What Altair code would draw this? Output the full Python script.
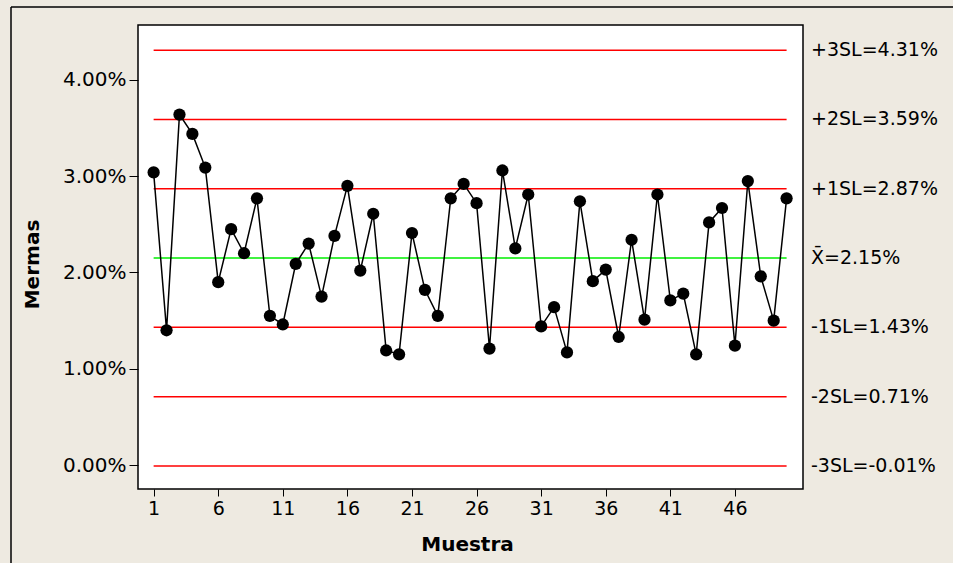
import altair as alt
import pandas as pd

# Individual values chart of shrinkage (mermas) per sample
muestra = list(range(1, 51))
mermas = [3.04, 1.40, 3.64, 3.44, 3.09, 1.90, 2.45, 2.20, 2.77, 1.55,
          1.46, 2.09, 2.30, 1.75, 2.38, 2.90, 2.02, 2.61, 1.19, 1.15,
          2.41, 1.82, 1.55, 2.77, 2.92, 2.72, 1.21, 3.06, 2.25, 2.81,
          1.44, 1.64, 1.17, 2.74, 1.91, 2.03, 1.33, 2.34, 1.51, 2.81,
          1.71, 1.78, 1.15, 2.52, 2.67, 1.24, 2.95, 1.96, 1.50, 2.77]

# Sigma limits around the centre line
limit_names = ["+3SL", "+2SL", "+1SL", "X\u0304", "-1SL", "-2SL", "-3SL"]
limit_values = [4.31, 3.59, 2.87, 2.15, 1.43, 0.71, -0.01]
limit_colors = ["#FF0000", "#FF0000", "#FF0000", "#00EE00", "#FF0000", "#FF0000", "#FF0000"]

y_ticks = [0, 1, 2, 3, 4]
x_ticks = [1, 6, 11, 16, 21, 26, 31, 36, 41, 46]

W, H = 665, 464
FONT = "DejaVu Sans"
BG = "#EEEAE1"

points = pd.DataFrame({"Muestra": muestra, "Mermas": mermas})
limits = pd.DataFrame({
    "name": limit_names,
    "value": limit_values,
    "color": limit_colors,
    "x0": muestra[0],
    "x1": muestra[-1],
})
limits["label"] = [f"{n}={v:.2f}%" for n, v in zip(limit_names, limit_values)]

x_scale = alt.Scale(domain=[-0.21, 51.27], nice=False, zero=False)
y_scale = alt.Scale(domain=[-0.249, 4.571], nice=False, zero=False)

x_axis = alt.Axis(
    values=x_ticks, title="Muestra", grid=False, domain=False,
    tickSize=7, tickColor="black", tickWidth=1,
    labelFont=FONT, labelFontSize=19, labelColor="black", labelPadding=3,
    titleFont=FONT, titleFontSize=20, titleFontWeight="bold", titleColor="black",
    titleX=329, titleY=61, titleBaseline="alphabetic", titleAlign="center",
)
y_axis = alt.Axis(
    values=y_ticks, title="Mermas", grid=False, domain=False,
    labelExpr="format(datum.value, '.2f') + '%'",
    tickSize=9, tickColor="black", tickWidth=1,
    labelFont=FONT, labelFontSize=20, labelColor="black", labelPadding=3,
    titleFont=FONT, titleFontSize=20, titleFontWeight="bold", titleColor="black",
    titleAngle=-90, titleX=-106, titleY=239, titleAlign="center", titleBaseline="middle",
)

base_x = alt.X("Muestra:Q", scale=x_scale, axis=x_axis)
base_y = alt.Y("Mermas:Q", scale=y_scale, axis=y_axis)

control = alt.Chart(limits).mark_rule(strokeWidth=1.5).encode(
    x=alt.X("x0:Q", scale=x_scale, axis=x_axis),
    x2="x1:Q",
    y=alt.Y("value:Q", scale=y_scale, axis=y_axis),
    color=alt.Color("color:N", scale=None),
)

labels = alt.Chart(limits).mark_text(
    align="left", baseline="middle", font=FONT, fontSize=19, color="black"
).encode(
    x=alt.value(W + 8),
    y=alt.Y("value:Q", scale=y_scale),
    text="label:N",
)

line = alt.Chart(points).mark_line(color="black", strokeWidth=1.5).encode(x=base_x, y=base_y)
dots = alt.Chart(points).mark_circle(size=150, color="black", opacity=1).encode(x=base_x, y=base_y)

frame_df = pd.DataFrame({"k": [0]})
frame_left = alt.Chart(frame_df).mark_rule(color="black", strokeWidth=1.5).encode(
    x=alt.value(-127), y=alt.value(-18), y2=alt.value(H + 80)
)
frame_top = alt.Chart(frame_df).mark_rule(color="black", strokeWidth=1.5).encode(
    x=alt.value(-127), x2=alt.value(W + 160), y=alt.value(-18)
)

chart = alt.layer(frame_left, frame_top, control, line, dots, labels).properties(
    width=W,
    height=H,
    padding={"left": 138, "top": 25, "right": 150, "bottom": 74},
    autosize=alt.AutoSizeParams(type="none"),
    background=BG,
).configure_view(
    fill="white", stroke="black", strokeWidth=1.5
)

chart.save("out.html", embed_options={"renderer": "svg", "actions": False})
